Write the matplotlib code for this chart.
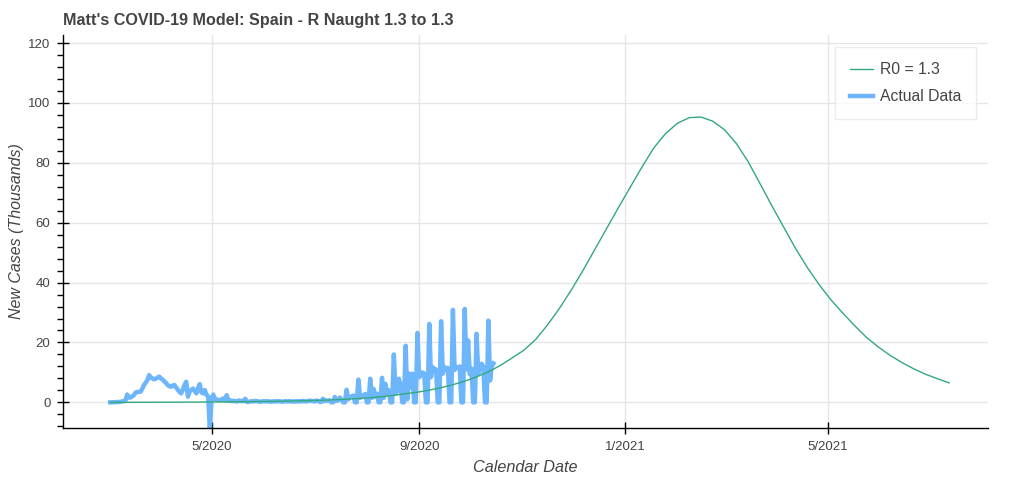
import pandas as pd
import matplotlib
matplotlib.use('Agg')
import matplotlib.pyplot as plt
import matplotlib.dates as mdates
from matplotlib.ticker import MultipleLocator, FuncFormatter

plt.rcParams['font.family'] = ['Liberation Sans', 'DejaVu Sans']

start_date = '2020-03-02'

# model output (thousands of new cases), one value every 7 days
model_cases = [0.0, 0.01, 0.02, 0.03, 0.04, 0.05, 0.07, 0.09, 0.11, 0.14,
               0.17, 0.2, 0.24, 0.29, 0.35, 0.42, 0.5, 0.6, 0.7, 0.85,
               1.05, 1.3, 1.55, 1.9, 2.35, 2.9, 3.4, 4.1, 4.9, 5.9,
               7.1, 8.5, 10.2, 12.3, 14.8, 17.4, 21.0, 25.8, 31.3, 37.4,
               44.0, 51.0, 58.0, 65.0, 71.8, 78.6, 85.0, 89.8, 93.2, 95.1,
               95.3, 93.9, 91.0, 86.4, 80.3, 73.0, 65.6, 58.5, 51.4, 45.0,
               39.3, 34.2, 29.8, 25.6, 21.7, 18.5, 15.7, 13.3, 11.2, 9.4,
               7.9, 6.5]

# reported daily new cases (thousands), one line per week starting on a Monday
actual_cases = [0.0, 0.0, 0.05, 0.05, 0.1, 0.1, 0.2,
                0.3, 0.4, 0.6, 2.6, 1.6, 1.6, 2.0,
                2.4, 3.3, 3.4, 3.5, 3.6, 4.6, 5.8,
                6.6, 7.4, 9.1, 8.3, 8.0, 7.7, 7.9,
                8.3, 8.6, 8.0, 7.6, 7.0, 6.5, 5.8,
                5.4, 5.2, 5.6, 5.8, 5.0, 4.2, 3.5,
                3.0, 4.2, 5.8, 6.9, 1.9, 3.6, 4.2,
                4.6, 3.8, 3.0, 4.8, 6.1, 3.3, 3.0,
                4.1, 2.5, 2.0, -8.9, 0.8, 2.6, 1.2,
                0.9, 0.8, 0.7, 1.0, 1.3, 0.6, 2.4,
                0.5, 0.7, 0.4, 0.5, 0.4, 0.3, 0.6,
                0.5, 0.4, 0.5, 1.2, 0.1, 0.2, 0.3,
                0.4, 0.3, 0.5, 0.4, 0.3, 0.2, 0.3,
                0.4, 0.3, 0.4, 0.3, 0.2, 0.3, 0.3,
                0.4, 0.3, 0.4, 0.3, 0.2, 0.3, 0.4,
                0.3, 0.4, 0.3, 0.3, 0.2, 0.4, 0.3,
                0.4, 0.3, 0.5, 0.4, 0.3, 0.4, 0.6,
                0.5, 0.4, 0.3, 0.6, 0.5, 0.2, 0.1,
                1.2, 0.4, 0.6, 0.5, 0.7, 0.0, 0.0,
                1.8, 0.5, 0.7, 1.6, 0.9, 0.0, 0.0,
                4.2, 1.0, 1.8, 2.0, 2.3, 0.0, 0.0,
                7.6, 1.5, 2.0, 2.3, 2.8, 0.0, 0.0,
                7.9, 1.5, 4.5, 1.8, 2.9, 0.0, 0.0,
                8.2, 1.5, 6.2, 3.0, 4.0, 0.0, 0.0,
                16.0, 2.9, 3.7, 7.9, 5.7, 0.0, 0.0,
                18.9, 1.0, 9.6, 5.0, 9.6, 0.0, 0.0,
                23.2, 8.4, 9.0, 10.0, 9.6, 0.0, 0.0,
                26.2, 8.4, 11.8, 10.7, 11.0, 0.0, 0.0,
                27.1, 9.6, 11.8, 11.0, 11.5, 0.0, 0.0,
                30.9, 10.8, 11.8, 11.5, 12.0, 0.0, 0.0,
                31.2, 11.0, 20.7, 9.4, 11.3, 0.0, 0.0,
                22.9, 9.5, 11.8, 12.9, 12.0, 0.0, 0.0,
                27.3, 7.3, 12.0, 13.0]

model_dates = pd.date_range(start_date, periods=len(model_cases), freq='7D')
actual_dates = pd.date_range(start_date, periods=len(actual_cases), freq='D')

text_col = '#444444'
grid_col = '#e6e6e6'

fig = plt.figure(figsize=(10.24, 4.82), dpi=100)
ax = fig.add_axes([63/1024, 1-427.5/482, 925/1024, 392.5/482])

ax.plot(model_dates, model_cases, color='#32a97c', lw=1.0, label='R0 = 1.3', zorder=3)
ax.plot(actual_dates, actual_cases, color='#6db6fc', lw=3.2, label='Actual Data',
        solid_joinstyle='round', zorder=2)

ax.set_xlim(pd.Timestamp('2020-02-03'), pd.Timestamp('2021-08-04'))
ax.set_ylim(-8.4, 122.7)

ax.xaxis.set_major_locator(mdates.MonthLocator(bymonth=[1, 5, 9]))
ax.xaxis.set_major_formatter(FuncFormatter(lambda v, p: '%d/%d' % (mdates.num2date(v).month, mdates.num2date(v).year)))
ax.yaxis.set_major_locator(MultipleLocator(20))
ax.yaxis.set_minor_locator(MultipleLocator(4))

ax.grid(True, which='major', color=grid_col, lw=1.0, zorder=0)
ax.set_axisbelow(True)

for s in ['top', 'right']:
    ax.spines[s].set_visible(False)
for s in ['left', 'bottom']:
    ax.spines[s].set_color('black')
    ax.spines[s].set_linewidth(1.0)

ax.tick_params(axis='both', which='major', direction='inout', length=8, width=1,
               colors='black', labelcolor=text_col, labelsize=9.5)
ax.tick_params(axis='y', which='minor', direction='out', length=4, width=1, colors='black')
ax.tick_params(axis='x', pad=6)
ax.tick_params(axis='y', pad=5)

ax.set_title("Matt's COVID-19 Model: Spain - R Naught 1.3 to 1.3", loc='left',
             fontsize=11.6, fontweight='bold', color=text_col, pad=7)
ax.set_xlabel('Calendar Date', fontsize=11.7, style='italic', color=text_col, labelpad=5)
ax.set_ylabel('New Cases (Thousands)', fontsize=11.5, style='italic', color=text_col, labelpad=3)

leg = ax.legend(loc='upper right', bbox_to_anchor=(0.987, 0.969), borderaxespad=0,
                fontsize=11.3, frameon=True, fancybox=False, handlelength=1.5,
                labelspacing=0.78, borderpad=0.95, handletextpad=0.42)
leg.get_frame().set_edgecolor(grid_col)
leg.get_frame().set_linewidth(1.0)
for t in leg.get_texts():
    t.set_color(text_col)

fig.savefig('out.png', dpi=100)
